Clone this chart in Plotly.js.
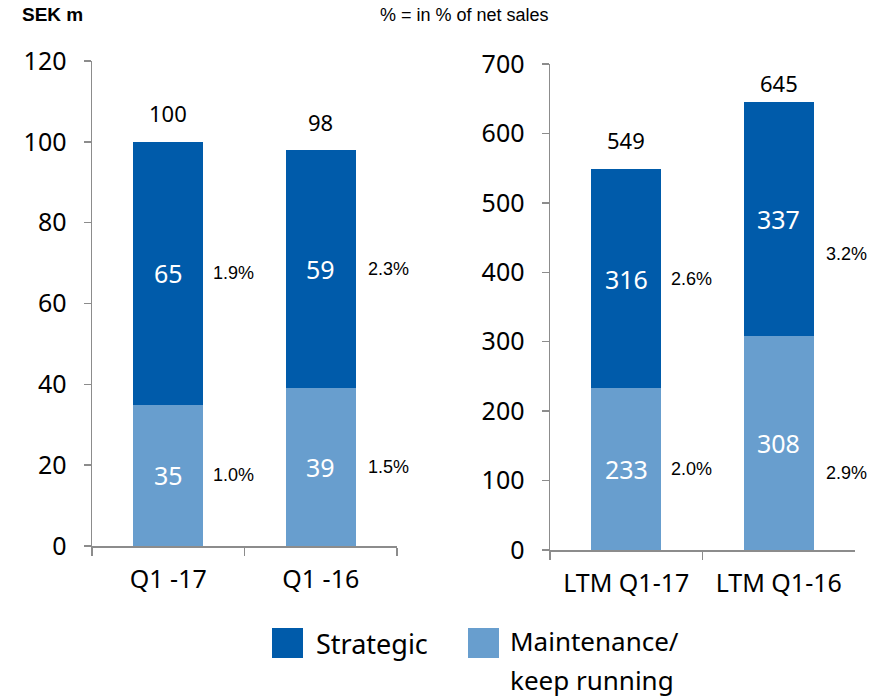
<!DOCTYPE html>
<html>
<head>
<meta charset="utf-8">
<script src="https://cdn.plot.ly/plotly-3.0.1.min.js"></script>
<style>html,body{margin:0;padding:0;background:#fff;}#chart{width:875px;height:699px;}</style>
</head>
<body>
<div id="chart"></div>
<script>
// ---- data ----
const quarterCats = ["Q1 -17", "Q1 -16"];
const quarterMaintenance = [35, 39];
const quarterStrategic = [65, 59];
const quarterTotals = [100, 98];
const quarterPctStrategic = ["1.9%", "2.3%"];
const quarterPctMaintenance = ["1.0%", "1.5%"];

const ltmCats = ["LTM Q1-17", "LTM Q1-16"];
const ltmMaintenance = [233, 308];
const ltmStrategic = [316, 337];
const ltmTotals = [549, 645];
const ltmPctStrategic = ["2.6%", "3.2%"];
const ltmPctMaintenance = ["2.0%", "2.9%"];

const seriesNames = ["Strategic", "Maintenance/ keep running"];

// ---- style ----
const DARK = "#005BAA";
const LIGHT = "#689ECE";
const AXIS = "#8C8C8C";
const MAIN_FONT = "Noto Sans, Open Sans, sans-serif";
const SMALL_FONT = "Liberation Sans, Arial, sans-serif";
const W = 875, H = 699;
// label nudges (pixels) as seen in the original slide
const ltmPctStrategicShift = [0, -35];
const ltmPctMaintenanceShift = [0, -30];
const ltmTotalShift = [29, 19];
const quarterTotalShift = [29, 28];

function barTrace(cats, vals, name, color, xa, ya, show) {
  return {
    type: "bar", x: cats, y: vals, name: name, xaxis: xa, yaxis: ya,
    marker: {color: color, line: {width: 0}}, width: 0.46,
    showlegend: show, hoverinfo: "x+y+name"
  };
}

const data = [
  barTrace(quarterCats, quarterMaintenance, seriesNames[1], LIGHT, "x", "y", false),
  barTrace(quarterCats, quarterStrategic, seriesNames[0], DARK, "x", "y", false),
  barTrace(ltmCats, ltmMaintenance, seriesNames[1], LIGHT, "x2", "y2", false),
  barTrace(ltmCats, ltmStrategic, seriesNames[0], DARK, "x2", "y2", false)
];

const annotations = [];
function addGroupLabels(cats, maint, strat, totals, pctS, pctM, xa, ya, sShift, mShift, tShift) {
  cats.forEach((c, i) => {
    // segment values (white, centred)
    annotations.push({x: c, y: maint[i] / 2, xref: xa, yref: ya, text: String(maint[i]),
      showarrow: false, font: {family: MAIN_FONT, size: 25, color: "#ffffff"}});
    annotations.push({x: c, y: maint[i] + strat[i] / 2, xref: xa, yref: ya, text: String(strat[i]),
      showarrow: false, font: {family: MAIN_FONT, size: 25, color: "#ffffff"}});
    // totals above
    annotations.push({x: c, y: maint[i] + strat[i], xref: xa, yref: ya, text: String(totals[i]),
      showarrow: false, yshift: tShift[i],
      font: {family: MAIN_FONT, size: 22, color: "#000"}});
    // percentages to the right
    annotations.push({x: c, y: maint[i] + strat[i] / 2, xref: xa, yref: ya, text: pctS[i],
      showarrow: false, xshift: i === 0 ? 65 : 68, yshift: sShift[i],
      font: {family: SMALL_FONT, size: 18, color: "#000"}});
    annotations.push({x: c, y: maint[i] / 2, xref: xa, yref: ya, text: pctM[i],
      showarrow: false, xshift: i === 0 ? 65 : 68, yshift: mShift[i],
      font: {family: SMALL_FONT, size: 18, color: "#000"}});
  });
}
addGroupLabels(quarterCats, quarterMaintenance, quarterStrategic, quarterTotals,
  quarterPctStrategic, quarterPctMaintenance, "x", "y", [0, 0], [0, 0], quarterTotalShift);
addGroupLabels(ltmCats, ltmMaintenance, ltmStrategic, ltmTotals,
  ltmPctStrategic, ltmPctMaintenance, "x2", "y2", ltmPctStrategicShift, ltmPctMaintenanceShift, ltmTotalShift);

// header texts
annotations.push({x: 20 / W, y: 1 - 15 / H, xref: "paper", yref: "paper", xanchor: "left", yanchor: "middle",
  text: "<b>SEK m</b>", showarrow: false, font: {family: SMALL_FONT, size: 19, color: "#000"}});
annotations.push({x: 378 / W, y: 1 - 15 / H, xref: "paper", yref: "paper", xanchor: "left", yanchor: "middle",
  text: "% = in % of net sales", showarrow: false, font: {family: SMALL_FONT, size: 18, color: "#000"}});

// custom legend
annotations.push({x: 314 / W, y: 1 - 643 / H, xref: "paper", yref: "paper", xanchor: "left", yanchor: "middle",
  text: seriesNames[0], showarrow: false, font: {family: MAIN_FONT, size: 27, color: "#000"}});
annotations.push({x: 508 / W, y: 1 - 641 / H, xref: "paper", yref: "paper", xanchor: "left", yanchor: "middle",
  text: "Maintenance/", showarrow: false, font: {family: MAIN_FONT, size: 26, color: "#000"}});
annotations.push({x: 508 / W, y: 1 - 680 / H, xref: "paper", yref: "paper", xanchor: "left", yanchor: "middle",
  text: "keep running", showarrow: false, font: {family: MAIN_FONT, size: 26, color: "#000"}});

const shapes = [
  {type: "rect", xref: "paper", yref: "paper", x0: 272 / W, x1: 303 / W, y0: 1 - 658 / H, y1: 1 - 628 / H,
    fillcolor: DARK, line: {width: 0}},
  {type: "rect", xref: "paper", yref: "paper", x0: 468 / W, x1: 499 / W, y0: 1 - 658 / H, y1: 1 - 628 / H,
    fillcolor: LIGHT, line: {width: 0}}
];

function xAxis(domain, anchor) {
  return {domain: domain, anchor: anchor, type: "category", range: [-0.5, 1.5],
    showline: true, linecolor: AXIS, linewidth: 1.5, ticks: "outside", tickson: "boundaries",
    ticklen: 8, tickwidth: 1.5, tickcolor: AXIS, showgrid: false, zeroline: false,
    tickfont: {family: MAIN_FONT, size: 25, color: "#000"}, ticklabelstandoff: 10, fixedrange: true};
}
function yAxis(domain, anchor, range, dtick) {
  return {domain: domain, anchor: anchor, range: range, dtick: dtick,
    showline: true, linecolor: AXIS, linewidth: 1.5, ticks: "outside", ticklen: 7,
    tickwidth: 1.5, tickcolor: AXIS, showgrid: false, zeroline: false,
    tickfont: {family: MAIN_FONT, size: 25, color: "#000"}, ticklabelstandoff: 12, fixedrange: true};
}

const layout = {
  width: W, height: H,
  margin: {l: 0, r: 0, t: 0, b: 0},
  paper_bgcolor: "#fff", plot_bgcolor: "#fff",
  barmode: "stack", showlegend: false,
  xaxis: xAxis([92 / W, 397 / W], "y"),
  yaxis: yAxis([(H - 546) / H, (H - 61) / H], "x", [0, 120], 20),
  xaxis2: xAxis([550 / W, 855 / W], "y2"),
  yaxis2: yAxis([(H - 550) / H, (H - 64) / H], "x2", [0, 700], 100),
  annotations: annotations,
  shapes: shapes
};

Plotly.newPlot("chart", data, layout, {displayModeBar: false, staticPlot: true});
</script>
</body>
</html>
